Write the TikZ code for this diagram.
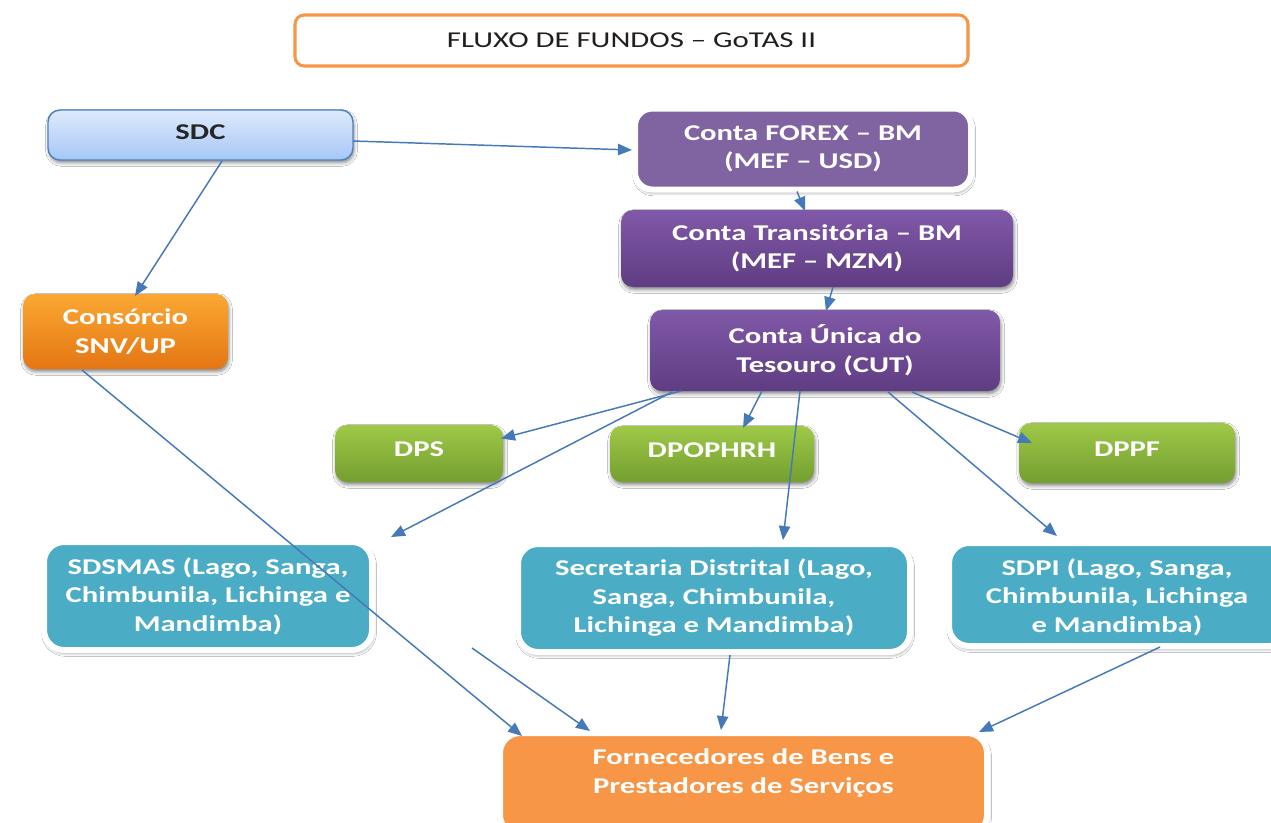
\documentclass[tikz,border=0pt]{standalone}
\usepackage{fontspec}
\setmainfont{Carlito}[FakeStretch=1.36]
\usetikzlibrary{arrows.meta,shadows,shadows.blur,calc}
\definecolor{arrowc}{RGB}{69,121,184}
\definecolor{titleor}{RGB}{247,150,70}
\definecolor{sdctop}{RGB}{222,234,252}
\definecolor{sdcbot}{RGB}{166,199,246}
\definecolor{sdcline}{RGB}{79,129,189}
\definecolor{purflat}{RGB}{128,100,162}
\definecolor{purtop}{RGB}{128,88,168}
\definecolor{purbot}{RGB}{95,61,130}
\definecolor{ortop}{RGB}{250,168,50}
\definecolor{orbot}{RGB}{228,118,20}
\definecolor{grtop}{RGB}{158,201,72}
\definecolor{grbot}{RGB}{116,158,47}
\definecolor{teal}{RGB}{75,172,198}
\definecolor{forn}{RGB}{247,150,70}
\begin{document}
\begin{tikzpicture}[x=0.75pt,y=-0.75pt,
  sz/.style 2 args={minimum width={#1*0.75pt}, minimum height={#2*0.75pt}},
  box/.style={rounded corners=9pt, inner sep=0pt, outer sep=0pt, align=center,
    font=\bfseries\fontsize{16.9}{21.4}\selectfont, text=white},
  shad/.style={blur shadow={shadow blur radius=2.5pt, shadow xshift=0.8pt, shadow yshift=-2.2pt, shadow opacity=45}},
  wbox/.style={box, rounded corners=15pt, draw=white, line width=4.5pt, shad},
  purg/.style={box, top color=purtop, bottom color=purbot, shad},
  greenbox/.style={box, top color=grtop, bottom color=grbot, shad, text depth=6pt},
  tealbox/.style={wbox, fill=teal},
  flow/.style={draw=arrowc, line width=1.1pt, -{Triangle[length=10.5pt,width=8.5pt]}}
]
\useasboundingbox[fill=white] (0,0) rectangle (1271,822);

% title
\node[box, sz={673}{51}, draw=titleor, line width=2.3pt, fill=white, rounded corners=7pt,
  font=\fontsize{17}{20}\selectfont, text=black!88] (title) at (631.5,40.5) {FLUXO DE FUNDOS – GoTAS II};

% nodes
\node[box, sz={305}{50}, top color=sdctop, bottom color=sdcbot, draw=sdcline, line width=1.1pt, shad,
  text=black!85, text depth=4pt] (sdc) at (200.5,135) {SDC};
\node[wbox, rounded corners=13pt, sz={336}{81}, fill=purflat] (forex) at (803,149) {Conta FOREX – BM\\(MEF – USD)};
\node[purg, sz={392}{77}] (trans) at (817,248.5) {Conta Transitória – BM\\(MEF – MZM)};
\node[purg, sz={350}{81}] (cut) at (825,350.5) {Conta Única do\\Tesouro (CUT)};
\node[box, sz={205}{75}, top color=ortop, bottom color=orbot, shad] (cons) at (125.5,331.5) {Consórcio\\SNV/UP};
\node[greenbox, sz={168}{57}] (dps) at (419,453.5) {DPS};
\node[greenbox, sz={204}{56}] (dpop) at (712,454) {DPOPHRH};
\node[greenbox, sz={216}{60}] (dppf) at (1127,453) {DPPF};
\node[tealbox, sz={328}{108}] (sdsmas) at (208,596) {SDSMAS (Lago, Sanga,\\Chimbunila, Lichinga e\\Mandimba)};
\node[tealbox, sz={392}{108}] (sec) at (714,598) {Secretaria Distrital (Lago,\\Sanga, Chimbunila,\\Lichinga e Mandimba)};
\node[tealbox, sz={341}{103}, anchor=west] (sdpi) at (949,594.5) {};
\node[box] (sdpitext) at (1117,597) {SDPI (Lago, Sanga,\\Chimbunila, Lichinga\\e Mandimba)};
\node[wbox, sz={487}{102}, fill=forn] (fornbox) at (743.5,784) {};
\node[box] (forntext) at (743.5,773) {Fornecedores de Bens e\\Prestadores de Serviços};

% connectors
\draw[flow] ($(sdc.east)+(0,6)$) -- ($(forex.west)+(-3,1)$);
\draw[flow] ($(sdc.south)+(21.5,1)$) -- ($(cons.north)+(9.5,2)$);
\draw[flow] ($(forex.south)+(-6,2)$) -- ($(trans.north)+(-12,1)$);
\draw[flow] ($(trans.south)+(16,0)$) -- ($(cut.north)+(1,1)$);
\draw[flow] ($(cut.south)+(-144,0)$) -- ($(dps.east)+(-2,-15)$);
\draw[flow] ($(cut.south)+(-153,1)$) -- ($(sdsmas.north)+(183,-5)$);
\draw[flow] ($(cut.south)+(-63,0)$) -- ($(dpop.north)+(31,2)$);
\draw[flow] ($(cut.south)+(-25,0)$) -- ($(sec.north)+(69,-4)$);
\draw[flow] ($(cut.south)+(63,1)$) -- ($(sdpi.north)+(-62.5,-7)$);
\draw[flow] ($(cut.south)+(87,1)$) -- ($(dppf.west)+(13,-10)$);
\draw[flow] ($(cons.south)+(-43.5,1)$) -- ($(fornbox.north)+(-221.5,3)$);
\draw[flow] ($(sdsmas.south east)+(100,-2)$) -- ($(fornbox.north)+(-153.5,-2)$);
\draw[flow] ($(sec.south)+(16,3)$) -- ($(fornbox.north)+(-22.5,-3)$);
\draw[flow] ($(sdpi.south)+(40.5,1)$) -- ($(fornbox.north east)+(-8,-1)$);
\end{tikzpicture}
\end{document}
